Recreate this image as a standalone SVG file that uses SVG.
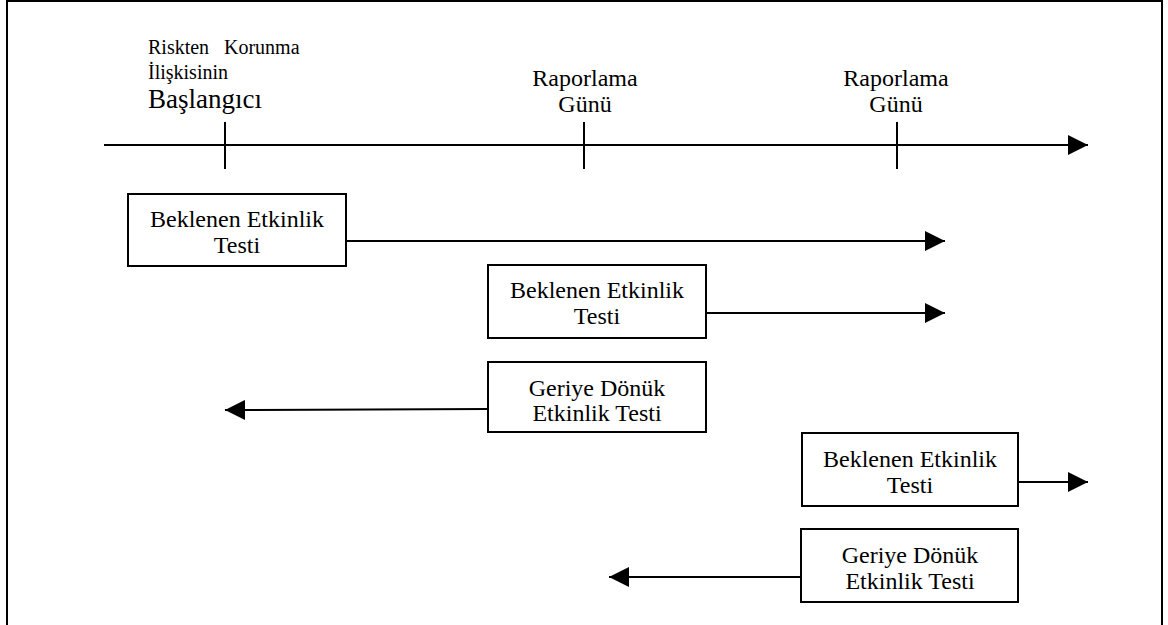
<svg xmlns="http://www.w3.org/2000/svg" width="1168" height="625" viewBox="0 0 1168 625">
  <style>
    .t { font-family: "Liberation Serif", "Times New Roman", serif; fill: #000; }
    .lbl { font-size: 24px; }
    .small { font-size: 20px; }
    .big { font-size: 27px; }
    .box { fill: #fff; stroke: #000; stroke-width: 2; }
    .ln { stroke: #000; stroke-width: 2; fill: none; }
    .tick { stroke: #000; stroke-width: 2; }
  </style>
  <defs>
    <marker id="arrow" markerWidth="20" markerHeight="20" refX="20" refY="10" orient="auto" markerUnits="userSpaceOnUse">
      <path d="M0,0 L20,10 L0,20 Z" fill="#000"/>
    </marker>
  </defs>

  <rect width="1168" height="625" fill="#fff"/>

  <!-- frame -->
  <path class="ln" d="M7,626 L7,1 L1162,1 L1162,626"/>

  <!-- time axis with milestones -->
  <g id="timeline">
    <line class="ln" x1="104" y1="145" x2="1088" y2="145" marker-end="url(#arrow)"/>
    <line class="tick" x1="225" y1="122" x2="225" y2="169"/>
    <line class="tick" x1="584" y1="122" x2="584" y2="169"/>
    <line class="tick" x1="897" y1="122" x2="897" y2="169"/>
  </g>

  <g id="label-start">
    <text class="t small" y="54"><tspan x="148">Riskten</tspan><tspan x="224">Korunma</tspan></text>
    <text class="t small" x="148" y="79">İlişkisinin</text>
    <text class="t big" x="148" y="108">Başlangıcı</text>
  </g>
  <g id="label-report-1">
    <text class="t lbl" x="585" y="86" text-anchor="middle">Raporlama</text>
    <text class="t lbl" x="585" y="112" text-anchor="middle">Günü</text>
  </g>
  <g id="label-report-2">
    <text class="t lbl" x="896" y="86" text-anchor="middle">Raporlama</text>
    <text class="t lbl" x="896" y="112" text-anchor="middle">Günü</text>
  </g>

  <!-- connectors -->
  <g id="connectors">
    <line class="ln" x1="346" y1="241" x2="945" y2="241" marker-end="url(#arrow)"/>
    <line class="ln" x1="706" y1="313" x2="945" y2="313" marker-end="url(#arrow)"/>
    <line class="ln" x1="488" y1="409" x2="225" y2="410" marker-end="url(#arrow)"/>
    <line class="ln" x1="1018" y1="482" x2="1088" y2="482" marker-end="url(#arrow)"/>
    <line class="ln" x1="801" y1="577" x2="609" y2="577" marker-end="url(#arrow)"/>
  </g>

  <!-- test boxes -->
  <g id="prospective-1">
    <rect class="box" x="128" y="194" width="218" height="72"/>
    <text class="t lbl" x="237" y="227" text-anchor="middle">Beklenen Etkinlik</text>
    <text class="t lbl" x="237" y="253" text-anchor="middle">Testi</text>
  </g>
  <g id="prospective-2">
    <rect class="box" x="488" y="265" width="218" height="73"/>
    <text class="t lbl" x="597" y="298" text-anchor="middle">Beklenen Etkinlik</text>
    <text class="t lbl" x="597" y="324" text-anchor="middle">Testi</text>
  </g>
  <g id="retrospective-1">
    <rect class="box" x="488" y="362" width="218" height="70"/>
    <text class="t lbl" x="597" y="396" text-anchor="middle">Geriye Dönük</text>
    <text class="t lbl" x="597" y="421" text-anchor="middle">Etkinlik Testi</text>
  </g>
  <g id="prospective-3">
    <rect class="box" x="802" y="433" width="216" height="73"/>
    <text class="t lbl" x="910" y="467" text-anchor="middle">Beklenen Etkinlik</text>
    <text class="t lbl" x="910" y="493" text-anchor="middle">Testi</text>
  </g>
  <g id="retrospective-2">
    <rect class="box" x="801" y="529" width="217" height="73"/>
    <text class="t lbl" x="910" y="563" text-anchor="middle">Geriye Dönük</text>
    <text class="t lbl" x="910" y="589" text-anchor="middle">Etkinlik Testi</text>
  </g>
</svg>
